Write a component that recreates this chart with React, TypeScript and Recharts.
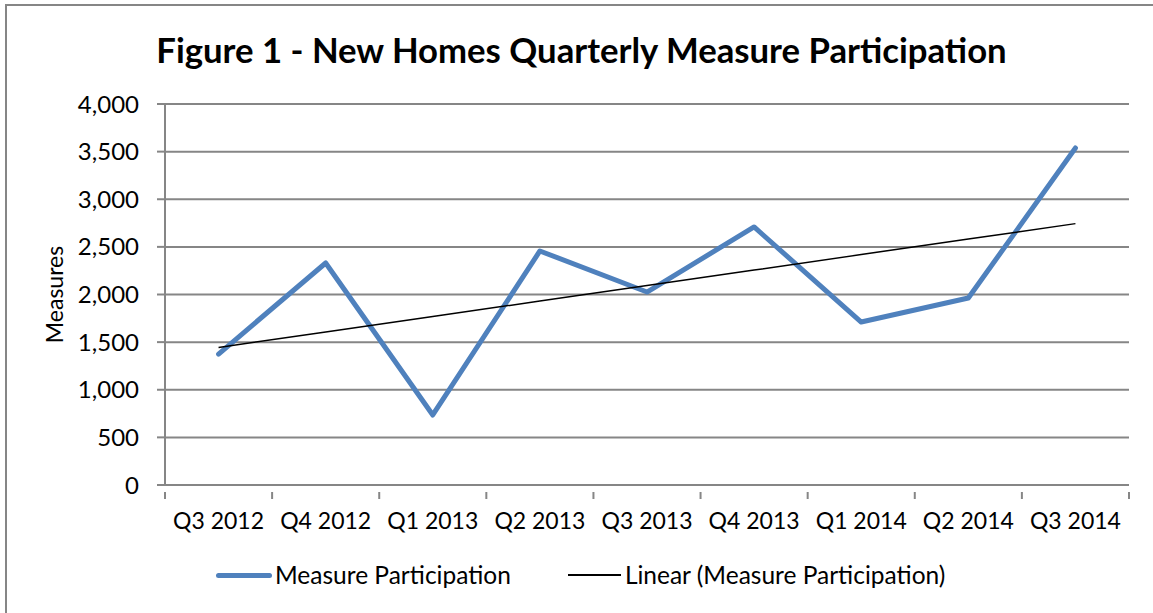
import { LineChart, Line, XAxis, YAxis, CartesianGrid } from 'recharts';

const quarters = ['Q3 2012', 'Q4 2012', 'Q1 2013', 'Q2 2013', 'Q3 2013', 'Q4 2013', 'Q1 2014', 'Q2 2014', 'Q3 2014'];
const measures = [1375, 2331, 735, 2457, 2026, 2709, 1711, 1963, 3538];
const yTicks = [0, 500, 1000, 1500, 2000, 2500, 3000, 3500, 4000];

// Excel-style linear trendline (least squares over the category index)
const n = measures.length;
const meanX = (n - 1) / 2;
const meanY = measures.reduce((a, b) => a + b, 0) / n;
const slope =
  measures.reduce((s, y, i) => s + (i - meanX) * (y - meanY), 0) /
  measures.reduce((s, _y, i) => s + (i - meanX) ** 2, 0);
const intercept = meanY - slope * meanX;

const data = quarters.map((q, i) => ({
  quarter: q,
  measures: measures[i],
  trend: intercept + slope * i,
}));

const W = 1153;
const H = 613;
const FONT = 'Lato, "Open Sans", sans-serif';
const GRID = '#868686';
const BLUE = '#4F81BD';

const PLOT_LEFT = 165;
const PLOT_RIGHT = 1129;
const bandW = (PLOT_RIGHT - PLOT_LEFT) / quarters.length;

function QuarterTick(props: any) {
  const { x, y, payload, index } = props;
  const left = x - bandW / 2;
  return (
    <g>
      <line x1={left} y1={y - 1} x2={left} y2={y + 6} stroke={GRID} strokeWidth={2} />
      {index === quarters.length - 1 && (
        <line x1={x + bandW / 2} y1={y - 1} x2={x + bandW / 2} y2={y + 6} stroke={GRID} strokeWidth={2} />
      )}
      <text x={x} y={y + 36} textAnchor="middle" fontFamily={FONT} fontSize={23} fill="#000">
        {payload.value}
      </text>
    </g>
  );
}

export default function App() {
  return (
    <div style={{ position: 'absolute', left: 0, top: 0, width: W, height: H, overflow: 'hidden', background: '#fff' }}>
      <div
        style={{
          position: 'absolute',
          left: 5,
          top: 4,
          width: W + 20,
          height: H + 20,
          border: `2px solid ${GRID}`,
        }}
      />
      <div
        style={{
          position: 'absolute',
          left: 0,
          width: 1163,
          top: 30,
          textAlign: 'center',
          fontFamily: FONT,
          fontWeight: 700,
          fontSize: 34.7,
          color: '#000',
          lineHeight: '40px',
        }}
      >
        Figure 1 - New Homes Quarterly Measure Participation
      </div>
      <div style={{ position: 'absolute', left: 0, top: 0 }}>
        <LineChart width={W} height={H} data={data} margin={{ top: 104, right: W - PLOT_RIGHT, bottom: 98, left: 0 }}>
          <CartesianGrid vertical={false} stroke={GRID} strokeWidth={2} />
          <XAxis
            dataKey="quarter"
            scale="band"
            height={30}
            axisLine={{ stroke: GRID, strokeWidth: 2 }}
            tickLine={false}
            tick={<QuarterTick />}
            interval={0}
          />
          <YAxis
            width={PLOT_LEFT}
            domain={[0, 4000]}
            ticks={yTicks}
            tickFormatter={(v: number) => v.toLocaleString('en-US')}
            axisLine={{ stroke: GRID, strokeWidth: 2 }}
            tickLine={{ stroke: GRID, strokeWidth: 2 }}
            tickSize={8}
            tickMargin={18}
            tick={{ fontFamily: FONT, fontSize: 24, fill: '#000' }}
            label={{
              value: 'Measures',
              angle: -90,
              position: 'insideLeft',
              offset: 55,
              style: { fontFamily: FONT, fontSize: 23, fill: '#000', textAnchor: 'middle' },
            }}
          />
          <Line
            type="linear"
            dataKey="measures"
            stroke={BLUE}
            strokeWidth={5}
            dot={false}
            activeDot={false}
            isAnimationActive={false}
            strokeLinejoin="round"
            strokeLinecap="round"
          />
          <Line
            type="linear"
            dataKey="trend"
            stroke="#000"
            strokeWidth={1.5}
            dot={false}
            activeDot={false}
            isAnimationActive={false}
          />
        </LineChart>
      </div>
      <div
        style={{
          position: 'absolute',
          top: 559,
          left: 216,
          display: 'flex',
          alignItems: 'center',
          fontFamily: FONT,
          fontSize: 24.5,
          color: '#000',
          lineHeight: '32px',
          whiteSpace: 'nowrap',
        }}
      >
        <span style={{ display: 'inline-block', width: 56, height: 5, borderRadius: 3, background: BLUE, marginRight: 3 }} />
        <span>Measure Participation</span>
        <span style={{ display: 'inline-block', width: 53, height: 1.5, background: '#000', marginLeft: 57, marginRight: 4 }} />
        <span>Linear (Measure Participation)</span>
      </div>
    </div>
  );
}
